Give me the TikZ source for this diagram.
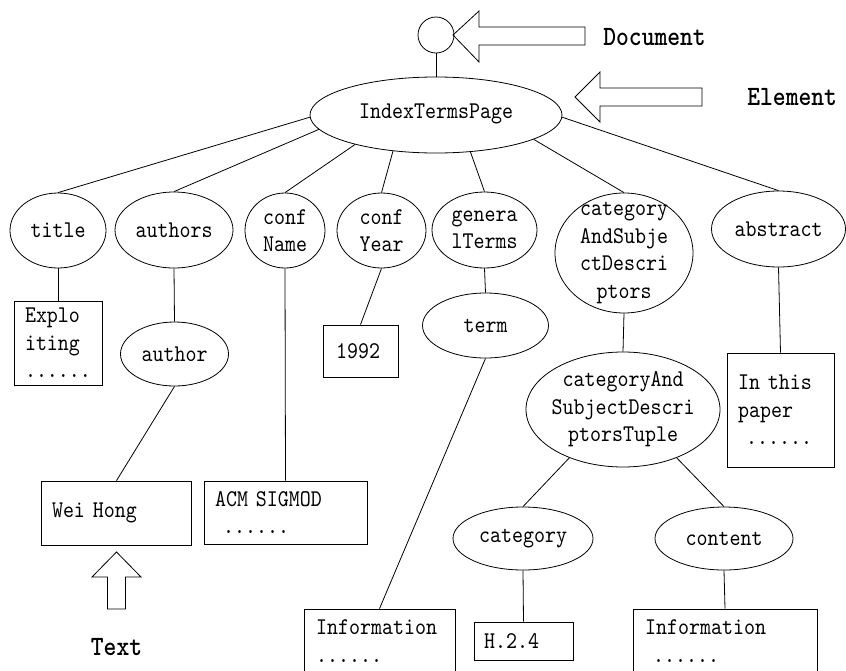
\documentclass[tikz,border=0pt]{standalone}
\usepackage{fontspec}
\usetikzlibrary{shapes.geometric}
% narrow monospaced faces for the tree labels and the captions
\newfontfamily\treefont{lmmono10-regular.otf}[FakeStretch=0.873]
\newfontfamily\tagfont{lmmonolt10-bold.otf}[FakeStretch=0.87]

\begin{document}
\begin{tikzpicture}[x=1pt,y=-1pt,line width=0.8pt,
  elem/.style={draw,ellipse,inner sep=0pt},
  tag/.style={inner sep=0pt,align=center,font=\treefont\fontsize{24}{27.4}\selectfont},
  leaf/.style={draw,rectangle,inner ysep=0pt,align=left,font=\treefont\fontsize{24}{27.4}\selectfont},
  caption/.style={inner sep=0pt,font=\tagfont\fontsize{28}{30}\selectfont},
  bigarrow/.style={draw,line join=miter}]

\clip (0,0) rectangle (846,670);

% document root and its element
\node[draw,circle,minimum size=36,inner sep=0pt] (doc) at (436,35) {};
\node[elem,minimum width=252,minimum height=76] (root) at (436,115) {};
\node[tag] (rootT) at ([yshift=1]root.center) {IndexTermsPage};
\draw (doc) -- (root);

% first level elements
\node[elem,minimum width=96,minimum height=75]  (title)    at (58,230.5)  {};
\node[elem,minimum width=118,minimum height=76] (authors)  at (174,230)   {};
\node[elem,minimum width=80,minimum height=75]  (confName) at (285,230.5) {};
\node[elem,minimum width=89,minimum height=75]  (confYear) at (381.5,230.5) {};
\node[elem,minimum width=105,minimum height=76] (genTerms) at (484.5,230)  {};
\node[elem,minimum width=138,minimum height=120] (catD)    at (624,253)   {};
\node[elem,minimum width=134,minimum height=76] (abstract) at (778.5,229)  {};

\node[tag] (titleT)    at (title)    {title};
\node[tag] (authorsT)  at (authors)  {authors};
\node[tag] (confNameT) at (confName) {conf\\Name};
\node[tag] (confYearT) at (confYear) {conf\\Year};
\node[tag] (genTermsT) at (genTerms) {genera\\lTerms};
\node[tag] (catDT)     at (catD)     {category\\AndSubje\\ctDescri\\ptors};
\node[tag] (abstractT) at (abstract) {abstract};

\draw (root.181)   -- (title.north);
\draw (root.187.7) -- (authors.north);
\draw (root.200)   -- (confName.north);
\draw (root.220.7) -- (confYear.north);
\draw (root.313.4) -- (genTerms.north);
\draw (root.346)   -- (catD.north);
\draw (root.359)   -- (abstract.north);

% deeper elements
\node[elem,minimum width=108,minimum height=64]  (author)   at (174.5,354) {};
\node[elem,minimum width=126,minimum height=65]  (term)     at (485.5,325.5) {};
\node[elem,minimum width=194,minimum height=115] (tuple)    at (623,409.5) {};
\node[elem,minimum width=140,minimum height=63]  (category) at (523,538.5) {};
\node[elem,minimum width=138,minimum height=63]  (content)  at (724,538.5) {};

\node[tag] (authorT)   at (author)   {author};
\node[tag] (termT)     at (term)     {term};
\node[tag] (tupleT)    at (tuple)    {categoryAnd\\SubjectDescri\\ptorsTuple};
\node[tag] (categoryT) at (category) {category};
\node[tag] (contentT)  at (content)  {content};

\draw (authors.south)  -- (author.north);
\draw (genTerms.south) -- (term.north);
\draw (catD.south)     -- (tuple.north);
\draw (tuple.222.5)    -- (category.north);
\draw (tuple.318.5)    -- (content.north);

% text leaves
\node[leaf,minimum height=84,text width=66,inner xsep=11]    (explo)  at (58,343)      {Explo\\iting\\......};
\node[leaf,minimum height=64,text width=129,inner xsep=10.5] (weihong) at (116.5,513)  {Wei Hong};
\node[leaf,minimum height=63,text width=141,inner xsep=11]   (acm)    at (285.5,512.5) {ACM SIGMOD\\~......};
\node[leaf,minimum height=52,text width=49,inner xsep=13]    (year)   at (360.5,351)   {1992};
\node[leaf,minimum height=64,text width=127,inner xsep=12]   (info1)  at (379.5,641)   {Information\\......};
\node[leaf,minimum height=114,text width=85,inner xsep=11]   (absbox) at (780.5,410)   {In this\\paper\\~......};
\node[leaf,minimum height=38,text width=79,inner xsep=10]    (h24)    at (523.5,641)   {H.2.4};
\node[leaf,minimum height=64,text width=160,inner xsep=12]   (info2)  at (725,641)     {Information\\~......};

\draw (title.south)    -- (explo.north);
\draw (author.south)   -- (weihong.north);
\draw (confName.south) -- (acm.north);
\draw (confYear.south) -- (year.north);
\draw (term.south)     -- (info1.north);
\draw (abstract.south) -- (absbox.north);
\draw (category.south) -- (h24.north);
\draw (content.south)  -- (info2.north);

% pointer arrows with their captions
\draw[bigarrow] (453,35) -- (479,11) -- (479,27) -- (585,27) -- (585,45)
  -- (479,45) -- (479,62) -- cycle;
\draw[bigarrow] (575,97) -- (600,72) -- (600,88) -- (702,88) -- (702,106)
  -- (600,106) -- (600,122) -- cycle;
\draw[bigarrow] (116.5,552) -- (141,577) -- (125.5,577) -- (125.5,609)
  -- (107.5,609) -- (107.5,577) -- (92,577) -- cycle;

\node[caption,anchor=base west] (docLbl)  at (603,45)    {Document};
\node[caption,anchor=base west] (elemLbl) at (747,105)   {Element};
\node[caption,anchor=base]      (textLbl) at (116.5,655) {Text};
\end{tikzpicture}
\end{document}
